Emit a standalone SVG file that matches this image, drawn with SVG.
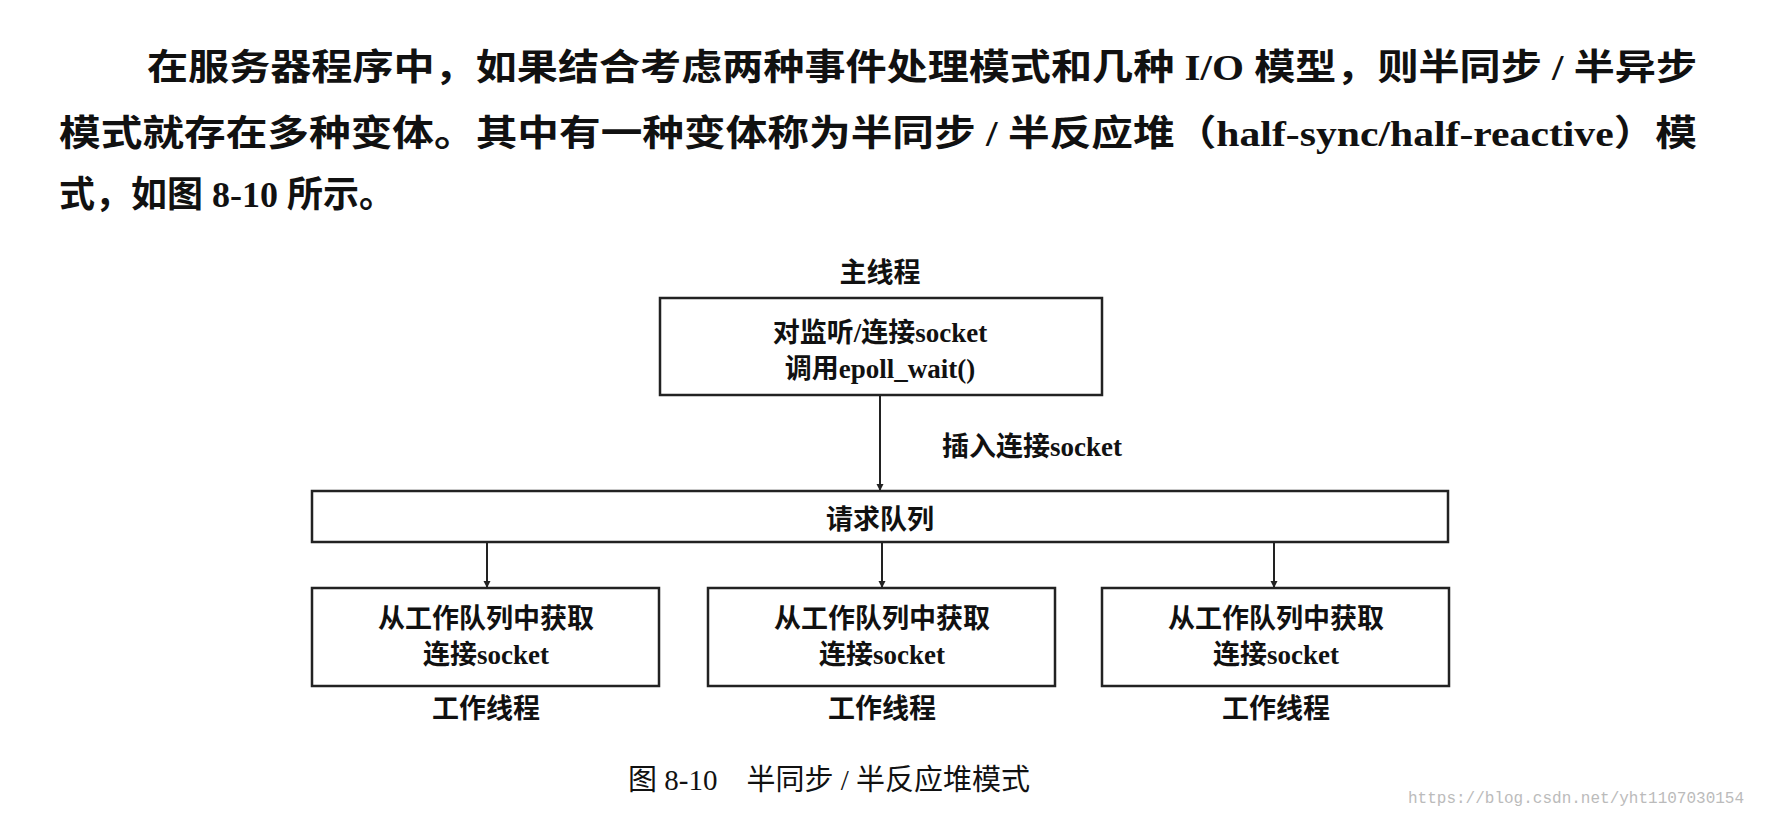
<svg xmlns="http://www.w3.org/2000/svg" width="1768" height="818" viewBox="0 0 1768 818">
<style>
text{font-family:"Liberation Serif","Noto Sans CJK SC",serif;fill:#111}
.p{font-size:36px;font-weight:bold}
.n{font-size:27px;font-weight:bold;text-anchor:middle;dominant-baseline:central}
.box{fill:#fff;stroke:#222;stroke-width:2.5}
.c{stroke:#222;stroke-width:2;fill:none;marker-end:url(#a)}
</style>
<defs><marker id="a" viewBox="0 0 10 10" refX="10" refY="5" markerWidth="7" markerHeight="9" orient="auto" markerUnits="userSpaceOnUse"><path d="M0,0 L10,5 L0,10 z" fill="#222"/></marker></defs>
<rect width="1768" height="818" fill="#fff"/>
<text class="p" x="147" y="80" textLength="1550" lengthAdjust="spacingAndGlyphs">在服务器程序中，如果结合考虑两种事件处理模式和几种 I/O 模型，则半同步 / 半异步</text>
<text class="p" x="59" y="146" textLength="1638" lengthAdjust="spacingAndGlyphs">模式就存在多种变体。其中有一种变体称为半同步 / 半反应堆（half-sync/half-reactive）模</text>
<text class="p" x="59" y="207">式，如图 8-10 所示。</text>
<g id="connectors">
<line class="c" x1="880" y1="395" x2="880" y2="491"/>
<line class="c" x1="487" y1="542" x2="487" y2="588"/>
<line class="c" x1="882" y1="542" x2="882" y2="588"/>
<line class="c" x1="1274" y1="542" x2="1274" y2="588"/>
<text class="n" x="1032" y="447">插入连接socket</text>
</g>
<g id="main">
<text class="n" x="880" y="273">主线程</text>
<rect class="box" x="660" y="298" width="442" height="97"/>
<text class="n" x="880" y="333">对监听/连接socket</text>
<text class="n" x="880" y="369">调用epoll_wait()</text>
</g>
<g id="queue">
<rect class="box" x="312" y="491" width="1136" height="51"/>
<text class="n" x="880" y="520">请求队列</text>
</g>
<g id="w1">
<rect class="box" x="312" y="588" width="347" height="98"/>
<text class="n" x="486" y="619">从工作队列中获取</text>
<text class="n" x="486" y="655">连接socket</text>
<text class="n" x="486" y="709">工作线程</text>
</g>
<g id="w2">
<rect class="box" x="708" y="588" width="347" height="98"/>
<text class="n" x="882" y="619">从工作队列中获取</text>
<text class="n" x="882" y="655">连接socket</text>
<text class="n" x="882" y="709">工作线程</text>
</g>
<g id="w3">
<rect class="box" x="1102" y="588" width="347" height="98"/>
<text class="n" x="1276" y="619">从工作队列中获取</text>
<text class="n" x="1276" y="655">连接socket</text>
<text class="n" x="1276" y="709">工作线程</text>
</g>
<text x="628" y="790" style="font-size:29px">图 8-10　半同步 / 半反应堆模式</text>
<text x="1408" y="803" style="font-family:'Liberation Mono',monospace;font-size:16px;fill:#bbb">https://blog.csdn.net/yht1107030154</text>
</svg>
